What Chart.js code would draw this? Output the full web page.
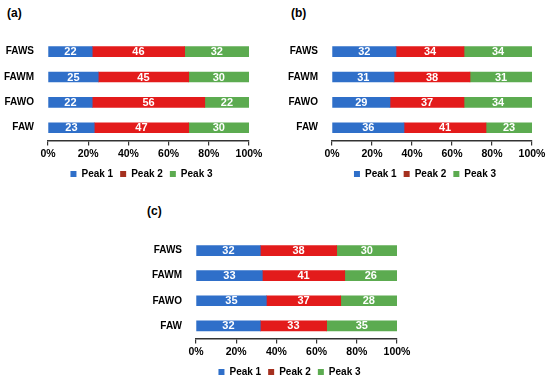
<!DOCTYPE html>
<html>
<head>
<meta charset="utf-8">
<script src="https://cdn.jsdelivr.net/npm/chart.js@4"></script>
<style>
  body { margin: 0; background: #fff; font-family: "Liberation Sans", Arial, sans-serif; overflow: hidden; }
  #wrap { position: relative; width: 550px; height: 382px; overflow: hidden; }
  .panel { position: absolute; }
  .tag { position: absolute; font-weight: bold; font-size: 12px; color: #000; z-index: 2; }
</style>
</head>
<body>
<div id="wrap">
  <div class="panel" style="left:0px;top:27px;width:275px;height:162px"><canvas id="chartA"></canvas></div>
  <div class="panel" style="left:275px;top:27px;width:275px;height:162px"><canvas id="chartB"></canvas></div>
  <div class="panel" style="left:140px;top:226px;width:275px;height:161px"><canvas id="chartC"></canvas></div>
  <div class="tag" style="left:7px;top:6px">(a)</div>
  <div class="tag" style="left:291px;top:6px">(b)</div>
  <div class="tag" style="left:147px;top:204px">(c)</div>
</div>
<script>
const categories = ["FAWS", "FAWM", "FAWO", "FAW"];
const seriesNames = ["Peak 1", "Peak 2", "Peak 3"];

// panel (a)
const peak1A = [22, 25, 22, 23];
const peak2A = [46, 45, 56, 47];
const peak3A = [32, 30, 22, 30];
// panel (b)
const peak1B = [32, 31, 29, 36];
const peak2B = [34, 38, 37, 41];
const peak3B = [34, 31, 34, 23];
// panel (c)
const peak1C = [32, 33, 35, 32];
const peak2C = [38, 41, 37, 33];
const peak3C = [30, 26, 28, 35];

const xTicks = [0, 20, 40, 60, 80, 100];

const barColors = ["#2F6FC9", "#E31B1B", "#5CAB50"];
const legendColors = ["#2F6FC9", "#A5301F", "#5CAB50"];

// write the value in the middle of every segment
const valueLabels = {
  id: "valueLabels",
  afterLayout(chart) {
    // legend sits a little left of the plot centre in the original
    if (chart.legend) {
      chart.legend.left -= 7;
      chart.legend.right -= 7;
    }
  },
  afterDatasetsDraw(chart) {
    const ctx = chart.ctx;
    ctx.save();
    ctx.fillStyle = "#fff";
    ctx.font = "bold 11px 'Liberation Sans', Arial, sans-serif";
    ctx.textAlign = "center";
    ctx.textBaseline = "middle";
    chart.data.datasets.forEach((ds, i) => {
      chart.getDatasetMeta(i).data.forEach((bar, j) => {
        ctx.fillText(ds.data[j], (bar.x + bar.base) / 2, bar.y + 0.5);
      });
    });
    ctx.restore();
  },
};

function makeChart(id, p1, p2, p3, yWidth, padRight) {
  const ctx = document.getElementById(id).getContext("2d");
  new Chart(ctx, {
    type: "bar",
    data: {
      labels: categories,
      datasets: [p1, p2, p3].map((d, i) => ({
        label: seriesNames[i],
        data: d,
        backgroundColor: barColors[i],
        borderWidth: 0,
        barThickness: 10,
      })),
    },
    options: {
      indexAxis: "y",
      responsive: true,
      maintainAspectRatio: false,
      animation: false,
      layout: { padding: { left: 0, right: padRight, top: 0, bottom: 0 } },
      scales: {
        x: {
          stacked: true,
          min: 0,
          max: 100,
          afterBuildTicks: (scale) => {
            scale.ticks = xTicks.map((v) => ({ value: v }));
          },
          ticks: {
            callback: (v) => v + "%",
            color: "#000",
            padding: 2,
            maxRotation: 0,
            font: { family: "'Liberation Sans', Arial", size: 10.5, weight: "bold" },
          },
          grid: { drawOnChartArea: false, drawTicks: true, tickLength: 5, color: "#333", lineWidth: 1.2 },
          border: { display: true, color: "#333", width: 1.5 },
        },
        y: {
          stacked: true,
          afterFit: (scale) => {
            scale.width = yWidth;
          },
          ticks: {
            color: "#000",
            padding: 6,
            font: { family: "'Liberation Sans', Arial", size: 10, weight: "bold" },
          },
          grid: { display: false },
          border: { display: false },
        },
      },
      plugins: {
        legend: {
          position: "bottom",
          fullSize: false,
          labels: {
            boxWidth: 6,
            boxHeight: 6,
            padding: 7,
            color: "#000",
            font: { family: "'Liberation Sans', Arial", size: 10, weight: "bold" },
            generateLabels: (chart) => {
              const items = Chart.defaults.plugins.legend.labels.generateLabels(chart);
              items.forEach((it, i) => {
                it.fillStyle = legendColors[i];
                it.strokeStyle = legendColors[i];
                it.lineWidth = 0;
              });
              return items;
            },
          },
        },
        tooltip: { enabled: false },
      },
    },
    plugins: [valueLabels],
  });
}

makeChart("chartA", peak1A, peak2A, peak3A, 48, 26);
makeChart("chartB", peak1B, peak2B, peak3B, 57, 18);
makeChart("chartC", peak1C, peak2C, peak3C, 56, 18);
</script>
</body>
</html>
